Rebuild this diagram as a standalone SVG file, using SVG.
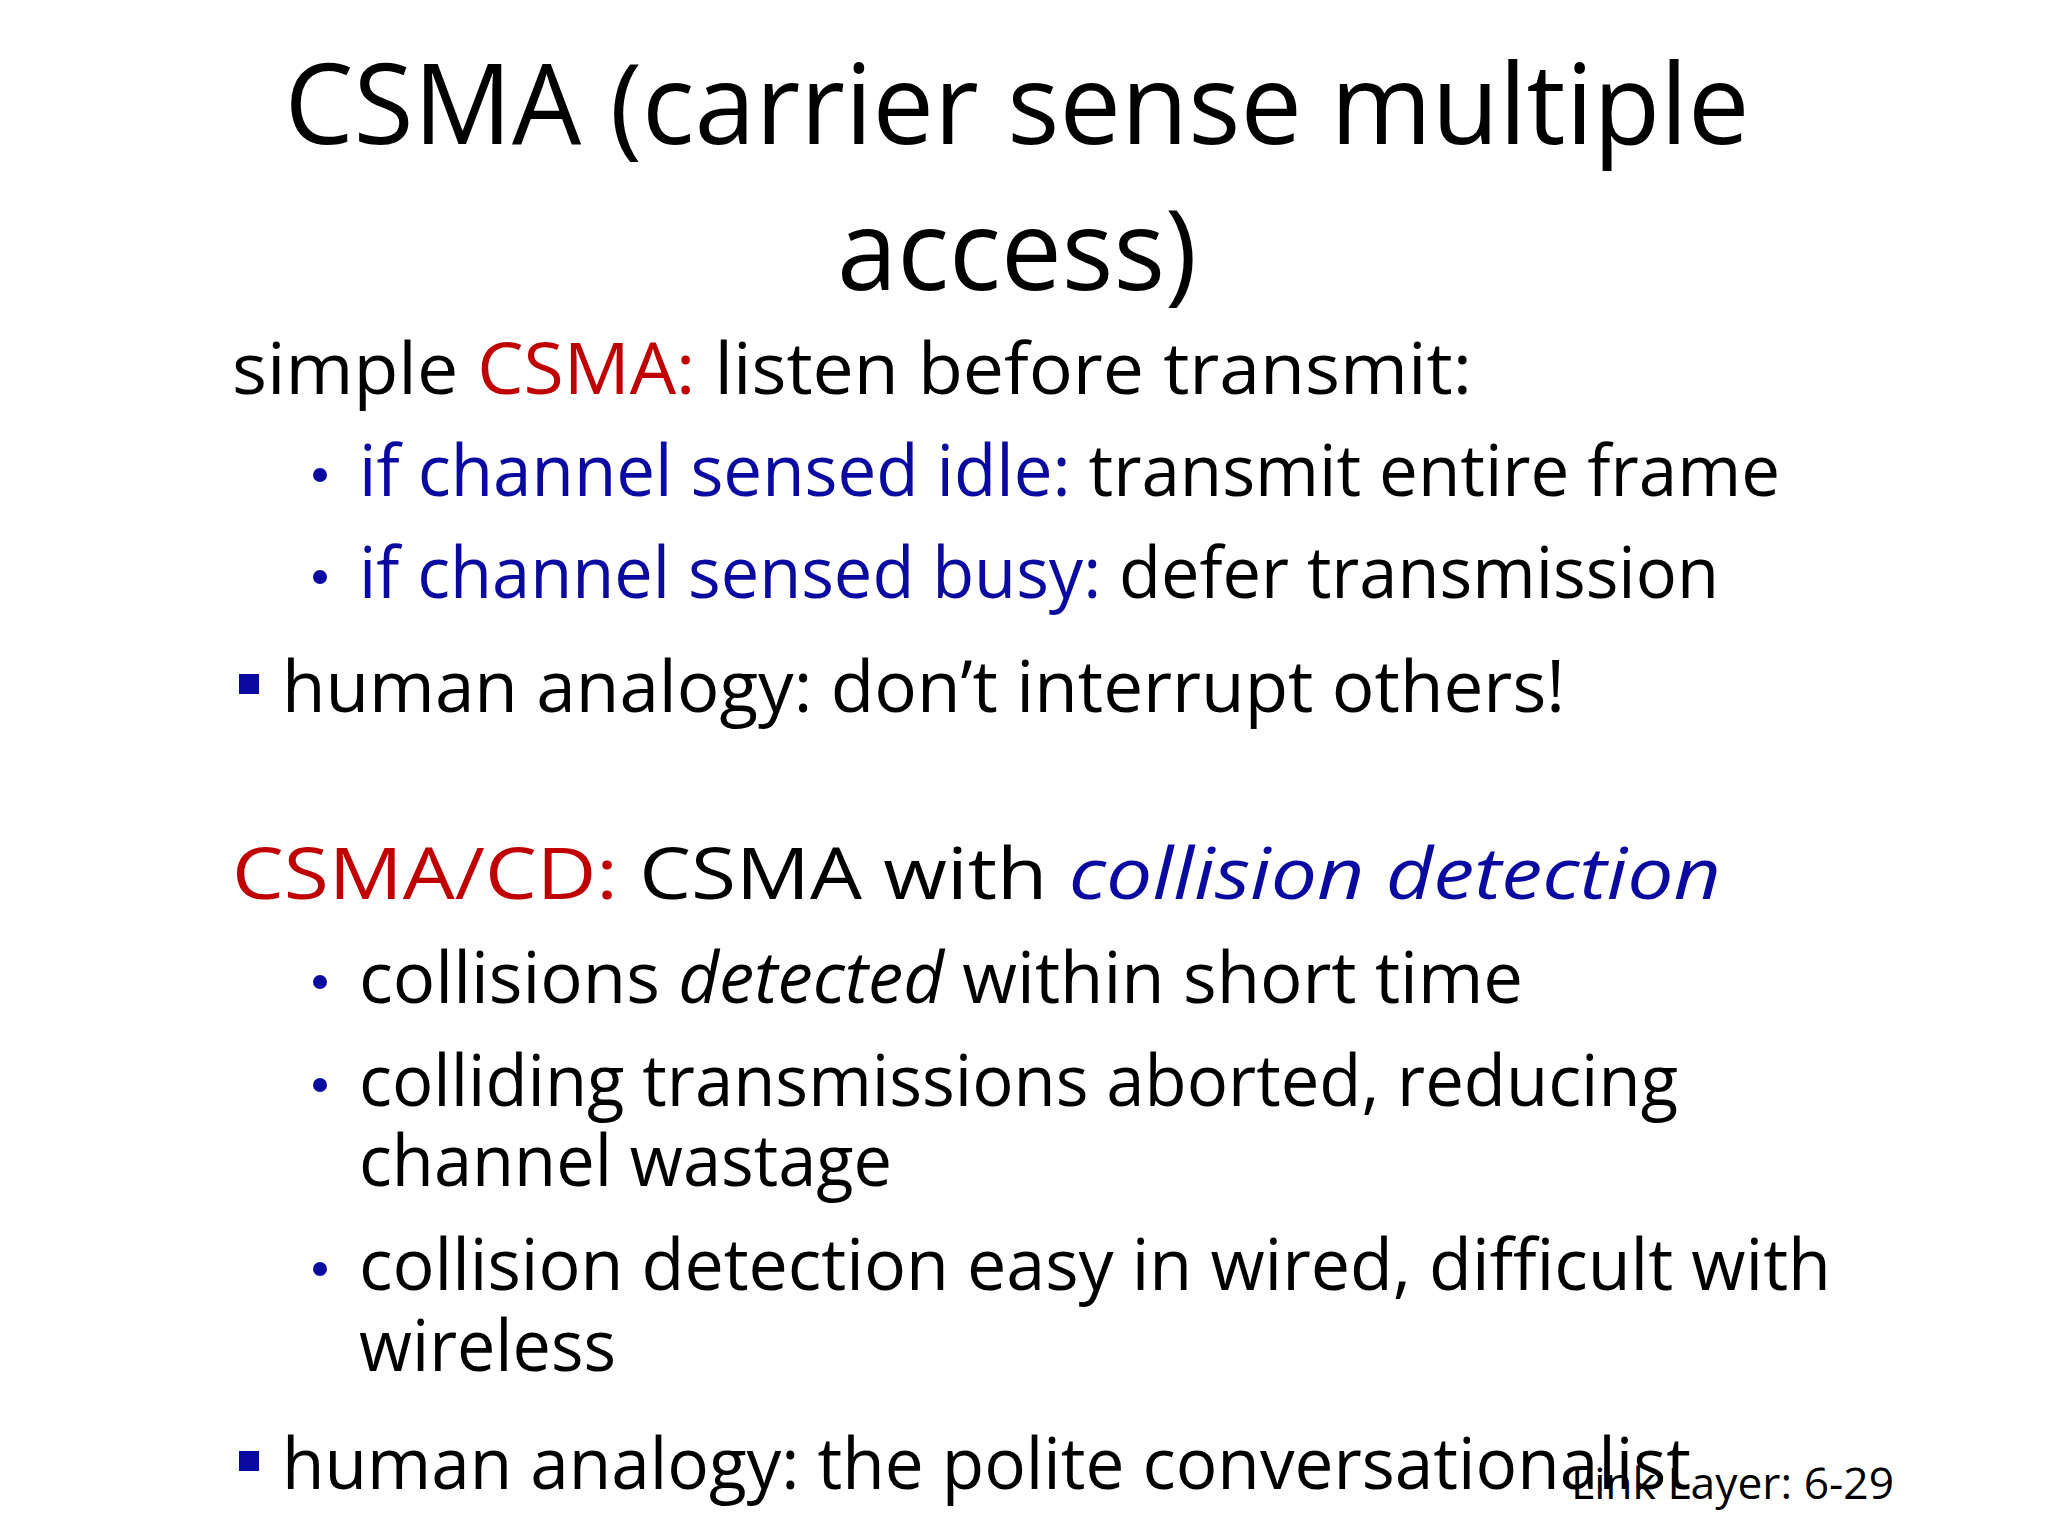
<svg xmlns="http://www.w3.org/2000/svg" width="2048" height="1536" viewBox="0 0 2048 1536">
<style>
text{font-family:"Open Sans","Noto Sans",sans-serif;fill:#000}
.t{font-size:112px}
.b{font-size:72px}
.r{fill:#C00000}
.u{fill:#0A0AA0}
.dot{fill:#0A0AA0}
.sq{fill:#0A0AA0}
.f{font-size:44px}
</style>
<rect width="2048" height="1536" fill="#fff"/>
<g id="title">
<text class="t" x="1017" y="144" text-anchor="middle" textLength="1465" lengthAdjust="spacingAndGlyphs">CSMA (carrier sense multiple</text>
<text class="t" x="1017" y="290" text-anchor="middle" textLength="360" lengthAdjust="spacingAndGlyphs">access)</text>
</g>
<g id="csma">
<text class="b" x="232" y="394" textLength="1240" lengthAdjust="spacingAndGlyphs">simple <tspan class="r">CSMA:</tspan> listen before transmit:</text>
<circle class="dot" cx="320" cy="475" r="7"/>
<text class="b" x="359" y="496" textLength="1421" lengthAdjust="spacingAndGlyphs"><tspan class="u">if channel sensed idle:</tspan> transmit entire frame</text>
<circle class="dot" cx="320" cy="577" r="7"/>
<text class="b" x="359" y="598" textLength="1360" lengthAdjust="spacingAndGlyphs"><tspan class="u">if channel sensed busy:</tspan> defer transmission</text>
<rect class="sq" x="239" y="674" width="20" height="20"/>
<text class="b" x="282" y="712" textLength="1283" lengthAdjust="spacingAndGlyphs">human analogy: don’t interrupt others!</text>
</g>
<g id="csmacd">
<text class="b" x="232" y="899" textLength="1489" lengthAdjust="spacingAndGlyphs"><tspan class="r">CSMA/CD:</tspan> CSMA with <tspan class="u" font-style="italic">collision detection</tspan></text>
<circle class="dot" cx="320" cy="982" r="7"/>
<text class="b" x="359" y="1003" textLength="1164" lengthAdjust="spacingAndGlyphs">collisions <tspan font-style="italic">detected</tspan> within short time</text>
<circle class="dot" cx="320" cy="1085" r="7"/>
<text class="b" x="359" y="1106" textLength="1319" lengthAdjust="spacingAndGlyphs">colliding transmissions aborted, reducing</text>
<text class="b" x="359" y="1186" textLength="533" lengthAdjust="spacingAndGlyphs">channel wastage</text>
<circle class="dot" cx="320" cy="1269" r="7"/>
<text class="b" x="359" y="1290" textLength="1472" lengthAdjust="spacingAndGlyphs">collision detection easy in wired, difficult with</text>
<text class="b" x="359" y="1371" textLength="257" lengthAdjust="spacingAndGlyphs">wireless</text>
<rect class="sq" x="239" y="1451" width="20" height="20"/>
<text class="b" x="282" y="1489" textLength="1409" lengthAdjust="spacingAndGlyphs">human analogy: the polite conversationalist</text>
</g>
<g id="footer">
<text class="f" x="1571" y="1499" textLength="323" lengthAdjust="spacingAndGlyphs">Link Layer: 6-29</text>
</g>
</svg>
